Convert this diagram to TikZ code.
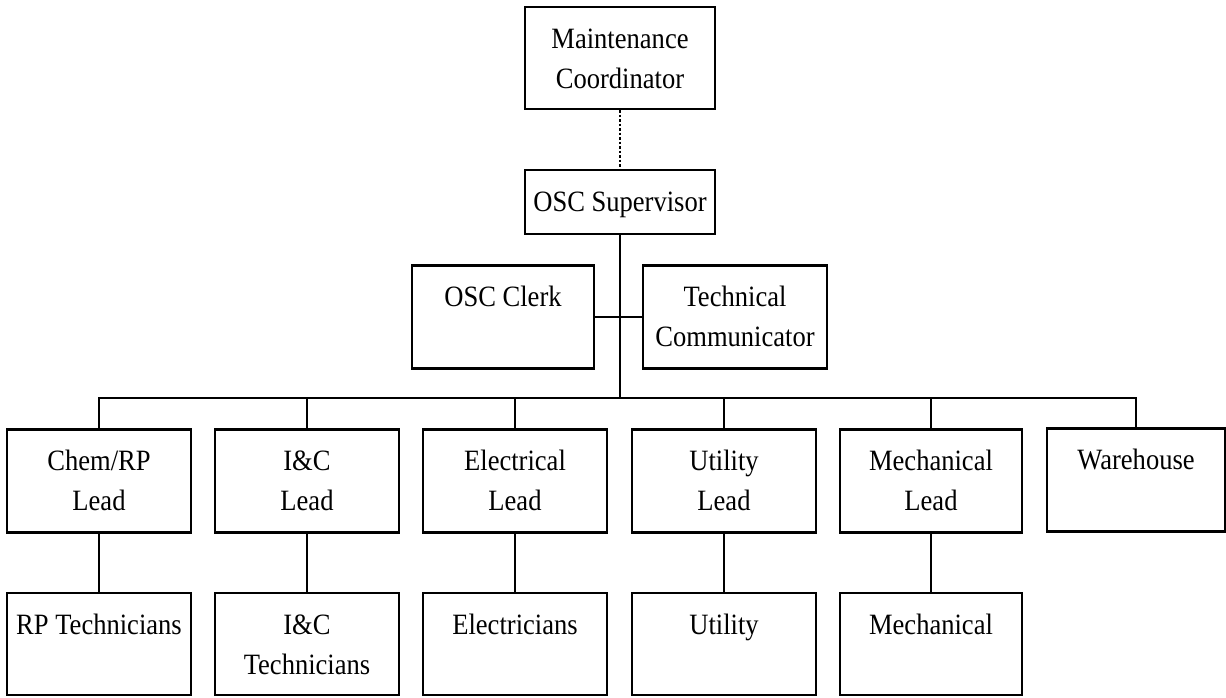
\documentclass[tikz,border=0pt]{standalone}
\usepackage{fontspec}
\setmainfont{Liberation Serif}[FakeStretch=0.9]
\newcommand\bx[3]{\parbox[c][#2][t]{#1}{\centering\rule{0pt}{41pt}#3\par}}
\tikzset{
  orgbox/.style={draw, line width=2.4pt, inner sep=0pt, font=\fontsize{29.5}{40}\selectfont},
  link/.style={line width=2.4pt},
  dotlink/.style={line width=2.2pt, dash pattern=on 2.5pt off 2pt}
}
\begin{document}
\begin{tikzpicture}[x=1pt,y=-1pt]
\useasboundingbox (0,0) rectangle (1226,697);
% top
\node[orgbox] (MC) at (620,58) {\bx{190pt}{102pt}{Maintenance\\Coordinator}};
\node[orgbox] (OSCS) at (620,202) {\bx{190pt}{64pt}{OSC Supervisor}};
\node[orgbox] (Clerk) at (503,317) {\bx{182pt}{103pt}{OSC Clerk}};
\node[orgbox] (TC) at (735,317) {\bx{184pt}{103pt}{Technical\\Communicator}};
% leads
\node[orgbox] (Chem) at (99,481) {\bx{184pt}{103pt}{Chem/RP\\Lead}};
\node[orgbox] (IC) at (307,481) {\bx{184pt}{103pt}{I\&C\\Lead}};
\node[orgbox] (El) at (515,481) {\bx{184pt}{103pt}{Electrical\\Lead}};
\node[orgbox] (Ut) at (724,481) {\bx{184pt}{103pt}{Utility\\Lead}};
\node[orgbox] (Me) at (931,481) {\bx{182pt}{103pt}{Mechanical\\Lead}};
\node[orgbox] (Wa) at (1136,480) {\bx{178pt}{103pt}{Warehouse}};
% bottom
\node[orgbox] (RP) at (99,644) {\bx{184pt}{102pt}{RP Technicians}};
\node[orgbox] (ICT) at (307,644) {\bx{184pt}{102pt}{I\&C\\Technicians}};
\node[orgbox] (Elc) at (515,644) {\bx{184pt}{102pt}{Electricians}};
\node[orgbox] (Uty) at (724,644) {\bx{184pt}{102pt}{Utility}};
\node[orgbox] (Mec) at (931,644) {\bx{182pt}{102pt}{Mechanical}};
% connectors
\coordinate (busC) at (620,398);
\draw[dotlink] (MC.south) -- (MC.south |- OSCS.north);
\draw[link] (OSCS.south) -- (busC);
\draw[link] (Clerk.east) -- (Clerk.east -| TC.west);
\draw[link] (Chem.north) |- (busC) -| (Wa.north);
\foreach \n in {IC,El,Ut,Me} {\draw[link] (\n.north) -- (\n.north |- busC);}
\draw[link] (Chem.south) -- (RP.north);
\draw[link] (IC.south) -- (ICT.north);
\draw[link] (El.south) -- (Elc.north);
\draw[link] (Ut.south) -- (Uty.north);
\draw[link] (Me.south) -- (Mec.north);
\end{tikzpicture}
\end{document}
